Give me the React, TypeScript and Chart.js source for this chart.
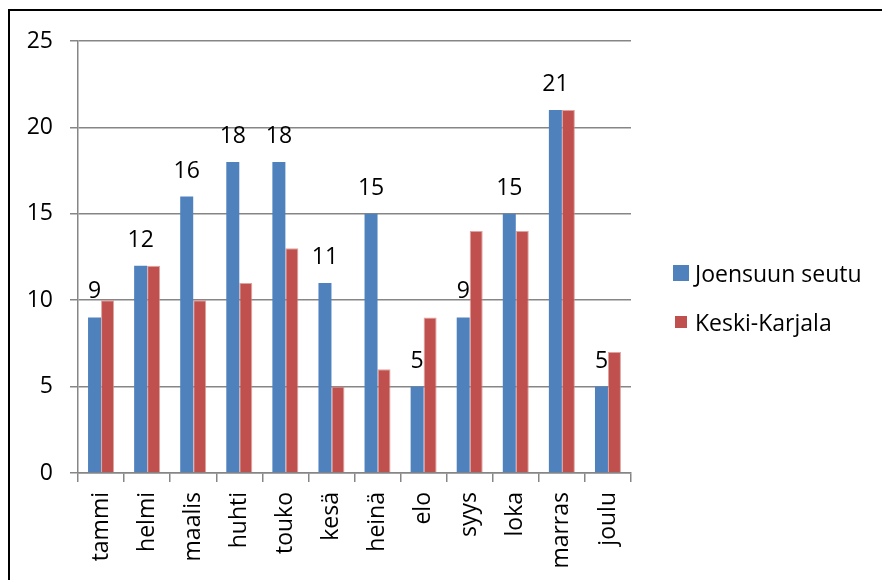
import React, { useEffect, useRef } from "react";
import { Chart, registerables } from "chart.js";

Chart.register(...registerables);

const categories = ["tammi", "helmi", "maalis", "huhti", "touko", "kesä", "heinä", "elo", "syys", "loka", "marras", "joulu"];
const seriesNames = ["Joensuun seutu", "Keski-Karjala"];
const joensuu = [9, 12, 16, 18, 18, 11, 15, 5, 9, 15, 21, 5];
const keskiKarjala = [10, 12, 10, 11, 13, 5, 6, 9, 14, 14, 21, 7];
const yTicks = [0, 5, 10, 15, 20, 25];

const FONT = "'Open Sans', sans-serif";
const GRID = "#868686";
const BLUE = "#4F81BD";
const RED = "#C0504D";

const dataLabels = {
  id: "dataLabels",
  afterDatasetsDraw(chart: any) {
    const ctx = chart.ctx;
    const meta = chart.getDatasetMeta(0);
    const vals = chart.data.datasets[0].data;
    ctx.save();
    ctx.font = `23px ${FONT}`;
    ctx.fillStyle = "#000";
    ctx.textAlign = "center";
    ctx.textBaseline = "alphabetic";
    meta.data.forEach((bar: any, i: number) => {
      ctx.fillText(String(vals[i]), bar.x, bar.y - 19);
    });
    ctx.restore();
  },
};

const customLegend = {
  id: "customLegend",
  afterDraw(chart: any) {
    const ctx = chart.ctx;
    const area = chart.chartArea;
    const boxSizes = [16, 12];
    ctx.save();
    ctx.font = `23px ${FONT}`;
    ctx.fillStyle = "#000";
    ctx.textAlign = "left";
    ctx.textBaseline = "alphabetic";
    chart.data.datasets.forEach((ds: any, i: number) => {
      const cy = area.top + 232 + i * 49;
      const s = boxSizes[i];
      const bx = area.right + 42 + (16 - s) / 2;
      ctx.fillStyle = ds.backgroundColor;
      ctx.fillRect(bx, cy - s / 2, s, s);
      ctx.fillStyle = "#000";
      ctx.fillText(ds.label, area.right + 64, cy + 9);
    });
    ctx.restore();
  },
};

export default function App() {
  const ref = useRef<HTMLCanvasElement | null>(null);

  useEffect(() => {
    if (!ref.current) return;
    const chart = new Chart(ref.current, {
      type: "bar",
      data: {
        labels: categories,
        datasets: [
          {
            label: seriesNames[0],
            data: joensuu,
            backgroundColor: BLUE,
            borderWidth: 0,
            categoryPercentage: 0.564,
            barPercentage: 1,
          },
          {
            label: seriesNames[1],
            data: keskiKarjala,
            backgroundColor: RED,
            borderColor: "rgba(214,140,138,0.8)",
            borderWidth: 1,
            categoryPercentage: 0.564,
            barPercentage: 1,
          },
        ],
      },
      options: {
        responsive: false,
        animation: false,
        devicePixelRatio: 1,
        layout: { padding: { left: 0, top: 41, right: 251, bottom: 0 } },
        plugins: {
          legend: { display: false },
          tooltip: { enabled: false },
        },
        scales: {
          x: {
            grid: {
              drawOnChartArea: false,
              drawTicks: true,
              tickLength: 9,
              color: GRID,
              lineWidth: 1.5,
              offset: true,
            },
            border: { color: GRID, width: 1.5 },
            ticks: {
              color: "#000",
              font: { family: FONT, size: 23 },
              minRotation: 90,
              maxRotation: 90,
              padding: 10,
              autoSkip: false,
            },
            afterFit(scale: any) {
              scale.height = 107;
            },
          },
          y: {
            min: yTicks[0],
            max: yTicks[yTicks.length - 1],
            afterBuildTicks(scale: any) {
              scale.ticks = yTicks.map((v) => ({ value: v }));
            },
            grid: {
              color: GRID,
              lineWidth: 1.5,
              tickLength: 8,
              drawTicks: true,
            },
            border: { color: GRID, width: 1.5 },
            ticks: {
              color: "#000",
              font: { family: FONT, size: 23 },
              padding: 17,
            },
            afterFit(scale: any) {
              scale.width = 78;
            },
          },
        },
      },
      plugins: [dataLabels, customLegend],
    });
    return () => chart.destroy();
  }, []);

  return (
    <div style={{ position: "absolute", left: 0, top: 0, width: 882, height: 580, overflow: "hidden", background: "#fff" }}>
      <canvas ref={ref} width={882} height={580} style={{ position: "absolute", left: 0, top: 0, width: 882, height: 580 }} />
      <div
        style={{
          position: "absolute",
          left: 8,
          top: 9,
          right: -10,
          bottom: -10,
          borderLeft: "2px solid #000",
          borderTop: "2px solid #000",
          pointerEvents: "none",
        }}
      />
    </div>
  );
}
